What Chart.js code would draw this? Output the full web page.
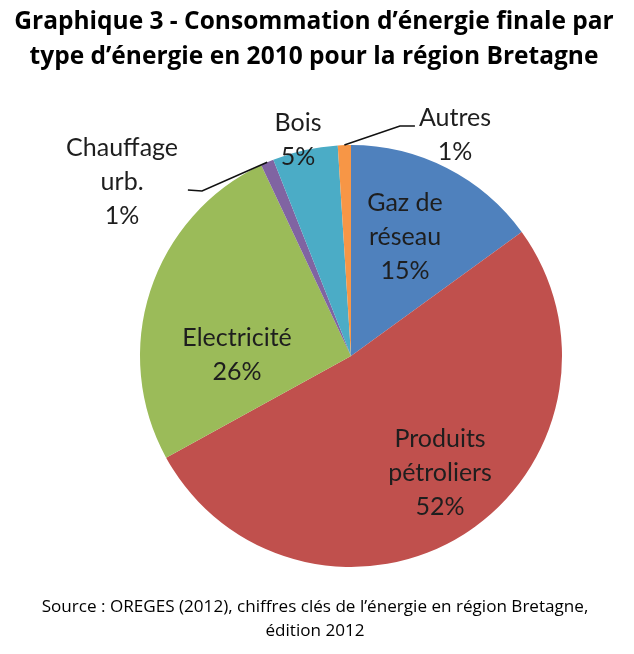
<!DOCTYPE html>
<html lang="fr">
<head>
<meta charset="utf-8">
<title>Consommation d'énergie finale - Bretagne 2010</title>
<script src="https://cdn.jsdelivr.net/npm/chart.js@4.4.0/dist/chart.umd.min.js"></script>
<style>
    html, body { margin: 0; padding: 0; background: #fff; }
    #wrap { position: relative; width: 634px; height: 654px; }
</style>
</head>
<body>
<div id="wrap"><canvas id="pie"></canvas></div>
<script>
// Data (percent of final energy consumption, 2010)
const categories = ['Gaz de réseau', 'Produits pétroliers', 'Electricité', 'Chauffage urb.', 'Bois', 'Autres'];
const shares = [15, 52, 26, 1, 5, 1];
const labelLines = [['Gaz de', 'réseau'], ['Produits', 'pétroliers'], ['Electricité'], ['Chauffage', 'urb.'], ['Bois'], ['Autres']];
const sliceColors = ['#4F81BD', '#C0504D', '#9BBB59', '#8064A2', '#4BACC6', '#F79646'];

const titleLines = ['Graphique 3 - Consommation d\u2019énergie finale par', 'type d\u2019énergie en 2010 pour la région Bretagne'];
const sourceLines = ['Source : OREGES (2012), chiffres clés de l\u2019énergie en région Bretagne,', 'édition 2012'];

// Label placement, in units of the pie radius from the pie centre
const labelAnchor = [[0.256, -0.565], [0.422, 0.555], [-0.540, -0.005], [-1.085, -0.825], [-0.251, -1.025], [0.493, -1.050]];
// Leader lines (elbow, end), same units; null = no line
const leaders = [null, null, null, [[-0.706, -0.782], [-0.773, -0.787]], null, [[0.232, -1.090], [0.303, -1.090]]];

const LABEL_FONT = '25px Lato, "Open Sans", sans-serif';
const LINE_H = 34;

// pick a font size so the first line fills the wanted width
const fitFont = (ctx, text, weight, family, width) => {
    ctx.font = weight + ' 20px ' + family;
    const size = 20 * width / ctx.measureText(text).width;
    return weight + ' ' + size.toFixed(1) + 'px ' + family;
};

const textPlugin = {
    id: 'texts',
    afterDatasetsDraw(chart) {
        const ctx = chart.ctx;
        const meta = chart.getDatasetMeta(0);
        ctx.save();

        // slice labels + leader lines
        meta.data.forEach((arc, i) => {
            const { x, y, outerRadius: r, startAngle, endAngle } = arc.getProps(['x', 'y', 'outerRadius', 'startAngle', 'endAngle'], true);
            if (leaders[i]) {
                const mid = (startAngle + endAngle) / 2;
                ctx.beginPath();
                ctx.moveTo(x + Math.cos(mid) * r, y + Math.sin(mid) * r);
                leaders[i].forEach(p => ctx.lineTo(x + p[0] * r, y + p[1] * r));
                ctx.strokeStyle = '#111';
                ctx.lineWidth = 1.6;
                ctx.stroke();
            }
            const lines = labelLines[i].concat([shares[i] + '%']);
            const cx = x + labelAnchor[i][0] * r;
            const cy = y + labelAnchor[i][1] * r;
            ctx.font = LABEL_FONT;
            ctx.fillStyle = '#1e1e1e';
            ctx.textAlign = 'center';
            ctx.textBaseline = 'middle';
            lines.forEach((t, k) => {
                ctx.fillText(t, cx, cy + (k - (lines.length - 1) / 2) * LINE_H);
            });
        });

        // title
        ctx.fillStyle = '#000';
        ctx.textAlign = 'center';
        ctx.textBaseline = 'middle';
        ctx.font = fitFont(ctx, titleLines[0], 'bold', '"Open Sans", sans-serif', 600);
        titleLines.forEach((t, k) => ctx.fillText(t, 314, 22 + k * 35));

        // source
        ctx.font = fitFont(ctx, sourceLines[0], 'normal', '"Open Sans", sans-serif', 546);
        sourceLines.forEach((t, k) => ctx.fillText(t, 315, 607 + k * 24));

        ctx.restore();
    }
};

new Chart(document.getElementById('pie'), {
    type: 'pie',
    data: {
        labels: categories,
        datasets: [{
            data: shares,
            backgroundColor: sliceColors,
            borderWidth: 0,
            hoverOffset: 0
        }]
    },
    options: {
        responsive: true,
        maintainAspectRatio: false,
        animation: false,
        layout: { padding: { left: 140, right: 72, top: 145, bottom: 87 } },
        plugins: {
            legend: { display: false },
            tooltip: { enabled: false },
            title: { display: false }
        }
    },
    plugins: [textPlugin]
});
</script>
</body>
</html>
